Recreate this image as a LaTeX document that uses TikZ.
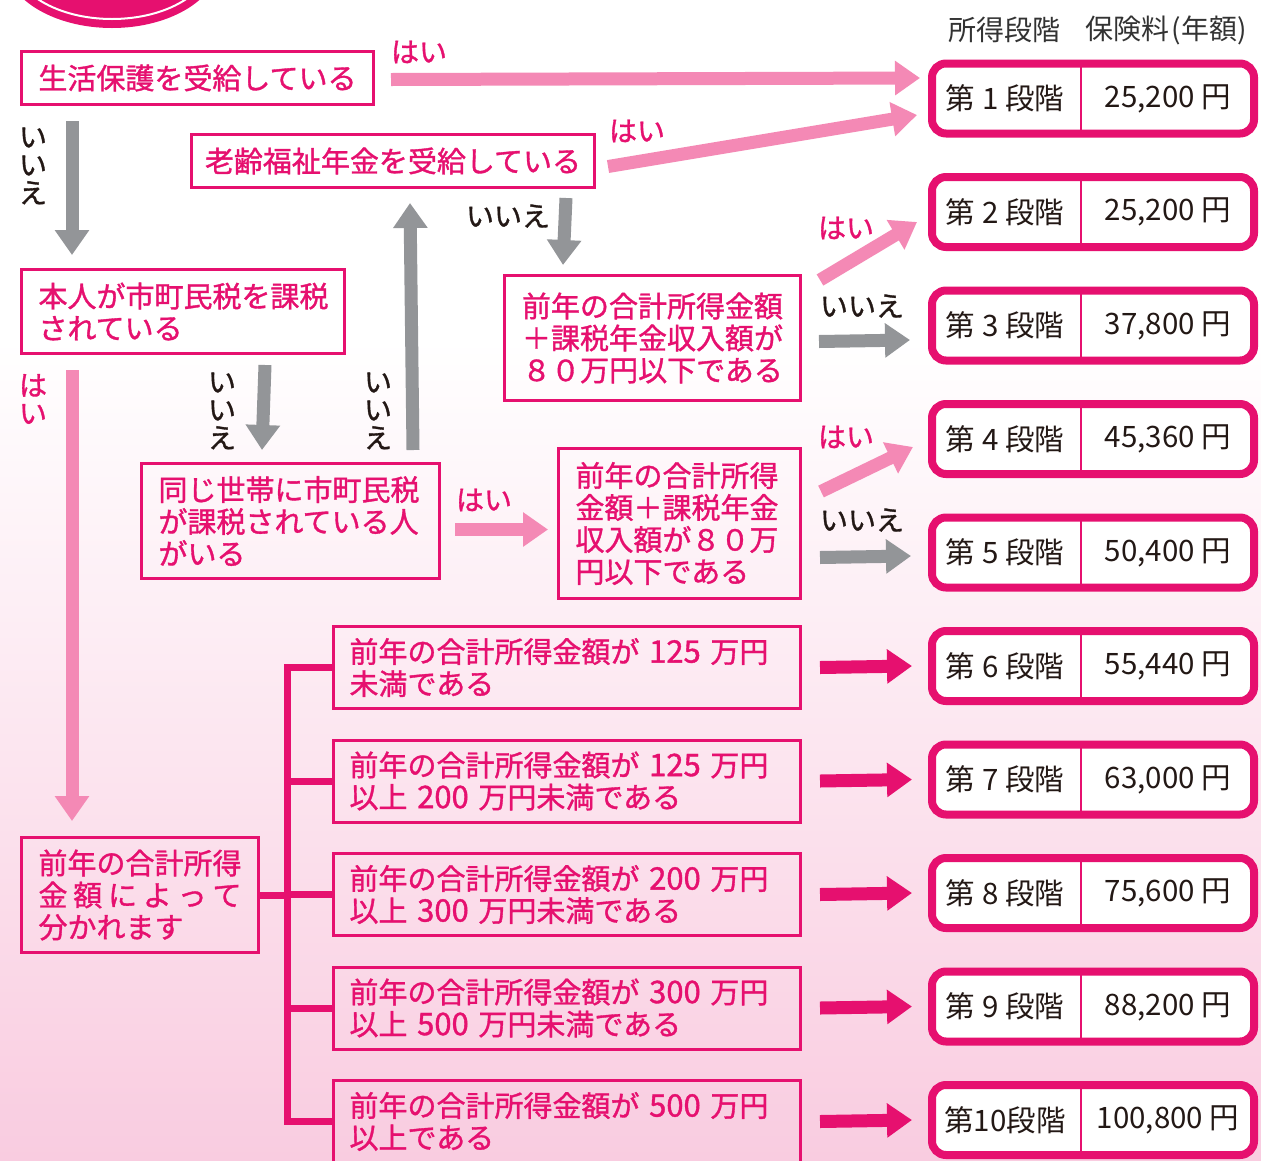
\documentclass[tikz,border=0pt]{standalone}
\usepackage{fontspec}
\setmainfont{Noto Sans CJK JP}
\newfontfamily\medf{Noto Sans CJK JP}[FakeBold=1.2]
\usetikzlibrary{arrows.meta,calc}
\definecolor{mag}{HTML}{E6106F}
\definecolor{lpink}{HTML}{F489B5}
\definecolor{agray}{HTML}{939598}
\definecolor{txt}{HTML}{231815}
\definecolor{hdrc}{HTML}{333333}
\definecolor{bgpink}{HTML}{F9CCE0}
\newcommand\resrow[4]{%
  \node[resbox] (r#1) at (1093,#2) {};
  \draw[mag, line width=2.5pt] (1081,#2-35) -- (1081,#2+35);
  \node[restxt] (r#1a) at (1005,#2) {#3};
  \node[restxt] (r#1b) at (1168,#2) {#4};
}
\newcommand\nm[1]{{\fontsize{31}{32}\selectfont #1}}
\begin{document}
\begin{tikzpicture}[x=1pt,y=-1pt,
  qbox/.style={draw=mag, line width=3pt, text=mag, fill=none, inner sep=0pt, anchor=north west,
    font=\medf\fontsize{29}{32}\selectfont},
  resbox/.style={draw=mag, line width=8pt, rounded corners=14pt, fill=white, inner sep=0pt,
    minimum width=322pt, minimum height=70pt},
  restxt/.style={text=txt, inner sep=0pt, font=\fontsize{29.5}{32}\selectfont},
  hdr/.style={text=hdrc, inner sep=0pt, font=\fontsize{28}{30}\selectfont},
  yes/.style={text=mag, inner sep=0pt, align=center, font=\medf\fontsize{28}{28}\selectfont},
  no/.style={text=txt, inner sep=0pt, align=center, font=\medf\fontsize{28}{28}\selectfont},
  fat/.style={line width=13pt, -{Triangle[length=25pt,width=33pt]}},
  brk/.style={draw=mag, line width=7pt}
]
% background
\fill[white] (0,0) rectangle (1261,340);
\shade[top color=white, bottom color=bgpink] (0,340) rectangle (1261,1160);
\useasboundingbox (0,0) rectangle (1261,1160);
% title ellipse (cut off)
\fill[mag] (112,-40) ellipse [x radius=108, y radius=68];
\draw[white, line width=2pt] (112,-40) ellipse [x radius=99, y radius=59];

% header
\node[hdr] (h1) at (1004,30) {所得段階};
\node[hdr] (h2) at (1166,30) {保険料\kern2pt(年額)};

% question boxes
\node[qbox, minimum width=352pt, minimum height=53pt] (b1) at (20,50) {生活保護を受給している};
\node[qbox, minimum width=403pt, minimum height=53pt] (b2) at (190,133) {老齢福祉年金を受給している};
\node[qbox, minimum width=323pt, minimum height=84pt, text width=289pt, align=left] (b3) at (20,268) {本人が市町民税を課税\\されている};
\node[qbox, minimum width=296pt, minimum height=125pt, align=center] (b4) at (503,274) {前年の合計所得金額\\＋課税年金収入額が\\８０万円以下である};
\node[qbox, minimum width=298pt, minimum height=115pt, text width=264pt, align=left] (b5) at (140,462) {同じ世帯に市町民税\\が課税されている人\\がいる};
\node[qbox, minimum width=242pt, minimum height=150pt, text width=208pt, align=left] (b6) at (557,447) {前年の合計所得\\金額＋課税年金\\収入額が８０万\\円以下である};
\node[qbox, minimum width=237pt, minimum height=115pt, text width=203pt, align=left] (b7) at (20,836) {前年の合計所得\\\makebox[7em][s]{金\hfill 額\hfill に\hfill よ\hfill っ\hfill て}\\分かれます};

\node[qbox, minimum width=467pt, minimum height=82pt, text width=435pt, align=left] (c1) at (332,625) {前年の合計所得金額が \nm{125} 万円\\未満である};
\node[qbox, minimum width=467pt, minimum height=82pt, text width=435pt, align=left] (c2) at (332,738.5) {前年の合計所得金額が \nm{125} 万円\\以上 \nm{200} 万円未満である};
\node[qbox, minimum width=467pt, minimum height=82pt, text width=435pt, align=left] (c3) at (332,852) {前年の合計所得金額が \nm{200} 万円\\以上 \nm{300} 万円未満である};
\node[qbox, minimum width=467pt, minimum height=82pt, text width=435pt, align=left] (c4) at (332,965.5) {前年の合計所得金額が \nm{300} 万円\\以上 \nm{500} 万円未満である};
\node[qbox, minimum width=467pt, minimum height=82pt, text width=435pt, align=left] (c5) at (332,1079) {前年の合計所得金額が \nm{500} 万円\\以上である};

% result boxes
\resrow{1}{98.5}{第 1 段階}{25,200 円}
\resrow{2}{212}{第 2 段階}{25,200 円}
\resrow{3}{325.5}{第 3 段階}{37,800 円}
\resrow{4}{439}{第 4 段階}{45,360 円}
\resrow{5}{552.5}{第 5 段階}{50,400 円}
\resrow{6}{666}{第 6 段階}{55,440 円}
\resrow{7}{779.5}{第 7 段階}{63,000 円}
\resrow{8}{893}{第 8 段階}{75,600 円}
\resrow{9}{1006.5}{第 9 段階}{88,200 円}
\resrow{10}{1120}{第10段階}{100,800 円}

% arrows
\draw[fat, lpink] ($(b1.east)+(16,1.5)$) -- ($(r1.west)+(-8,-20.5)$);
\draw[fat, lpink] ($(b2.east)+(12,5.5)$) -- ($(r1.west)+(-11,16.5)$);
\draw[fat, agray] ($(b1.south west)+(52,15)$) -- ($(b3.north west)+(52,-13)$);
\draw[fat, lpink] ($(b3.south west)+(52,15)$) -- ($(b7.north west)+(52,-15)$);
\draw[fat, agray] ($(b3.south east)+(-81,10)$) -- ($(b5.north west)+(122,-12)$);
\draw[fat, agray] ($(b5.north east)+(-28,-12)$) -- ($(b2.south west)+(220,14)$);
\draw[fat, agray] ($(b2.south east)+(-30,9)$) -- ($(b4.north west)+(60,-9)$);
\draw[fat, lpink] ($(b4.north east)+(18,6)$) -- ($(r2.west)+(-11,10)$);
\draw[fat, agray] ($(b4.east)+(17,3.5)$) -- ($(r3.west)+(-18,14.5)$);
\draw[fat, lpink] ($(b5.east)+(14,8.5)$) -- ($(b6.west)+(-9,6)$);
\draw[fat, lpink] ($(b6.east)+(19,-32)$) -- ($(r4.west)+(-15,8)$);
\draw[fat, agray] ($(b6.east)+(18,34)$) -- ($(r5.west)+(-17,3.5)$);
\draw[fat, mag] ($(c1.east)+(18,0)$) -- ($(r6.west)+(-16,0)$);
\draw[fat, mag] ($(c2.east)+(18,0)$) -- ($(r7.west)+(-16,0)$);
\draw[fat, mag] ($(c3.east)+(18,0)$) -- ($(r8.west)+(-16,0)$);
\draw[fat, mag] ($(c4.east)+(18,0)$) -- ($(r9.west)+(-16,0)$);
\draw[fat, mag] ($(c5.east)+(18,0)$) -- ($(r10.west)+(-16,0)$);

% bracket
\draw[brk] (c1.west) -- ++(-45,0) coordinate (bt) |- (c5.west);
\draw[brk] (c2.west) -- ++(-45,0);
\draw[brk] (c3.west) -- ++(-45,0);
\draw[brk] (c4.west) -- ++(-45,0);
\draw[brk] (b7.east) -- (b7.east -| bt);

% labels
\node[yes] (y1) at (419,52) {はい};
\node[yes] (y2) at (637,131) {はい};
\node[no] (n1) at (33,166) {い\\い\\え};
\node[yes] (y3) at (33,399) {は\\い};
\node[no] (n2) at (222,411) {い\\い\\え};
\node[no] (n3) at (378,411) {い\\い\\え};
\node[no] (n4) at (508,216) {いいえ};
\node[yes] (y4) at (846,228) {はい};
\node[no] (n5) at (862,306) {いいえ};
\node[yes] (y5) at (484,500) {はい};
\node[yes] (y6) at (846,437) {はい};
\node[no] (n6) at (862,520) {いいえ};
\end{tikzpicture}
\end{document}
